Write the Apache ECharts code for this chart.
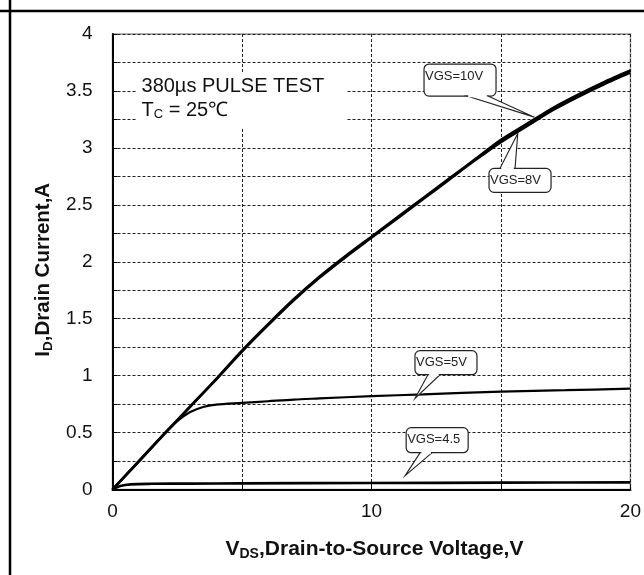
<!DOCTYPE html>
<html>
<head>
<meta charset="utf-8">
<script src="https://cdn.jsdelivr.net/npm/echarts@6/dist/echarts.min.js"></script>
<style>
html,body{margin:0;padding:0;background:#fff;}
#c{width:644px;height:575px;}
</style>
</head>
<body>
<div id="c"></div>
<script>
// ---- data ----
const vdsMain = [0,1,2,3,4,5,6,7,8,9,10,11,12,13,14,15,16,17,18,19,20];
const id10V   = [0,0.245,0.49,0.73,0.97,1.22,1.45,1.67,1.87,2.05,2.22,2.39,2.56,2.73,2.9,3.07,3.21,3.35,3.47,3.58,3.68];
const id8V    = [0,0.24,0.485,0.725,0.965,1.21,1.44,1.66,1.86,2.04,2.21,2.38,2.55,2.72,2.89,3.05,3.19,3.33,3.45,3.56,3.66];
const vds5V   = [0,1,2,2.5,3,3.5,4,5,6,7,8,10,12,15,17.5,20];
const id5V    = [0,0.245,0.49,0.6,0.68,0.725,0.745,0.76,0.775,0.79,0.80,0.82,0.835,0.86,0.872,0.885];
const vds45V  = [0,0.3,0.7,1.5,3,5,10,15,20];
const id45V   = [0,0.03,0.045,0.05,0.052,0.054,0.057,0.06,0.063];
const xTickLabels = ['0','10','20'];
const yTickLabels = ['0','0.5','1','1.5','2','2.5','3','3.5','4'];
const calloutText = ['VGS=10V','VGS=8V','VGS=5V','VGS=4.5'];

// annotation anchors in data units (box top-left, tail tip)
const callouts = [
  {box:[12.03,3.736], tip:[16.29,3.27],  w:72, h:32, side:'bottom', base:[43,64]},
  {box:[14.54,2.82],  tip:[15.65,3.127], w:62, h:24, side:'top',    base:[11,26]},
  {box:[11.68,1.219], tip:[11.68,0.80],  w:62, h:24, side:'bottom', base:[13,25]},
  {box:[11.34,0.543], tip:[11.30,0.121], w:62, h:25, side:'bottom', base:[14,26]}
];
const noteBox = {x0:0.94, y0:3.657, x1:9.04, y1:3.174};
const noteTextPos = {x:1.12, y1:3.543, y2:3.332};

const FONT = '"Liberation Sans", Arial, sans-serif';
const pairs = (xs, ys) => xs.map((x,i)=>[x, ys[i]]);

const chart = echarts.init(document.getElementById('c'), null, {renderer:'canvas'});
const gridDash = {show:true, lineStyle:{color:'#222', width:1, type:[3,2]}};

chart.setOption({
  animation:false,
  backgroundColor:'#fff',
  grid:{left:112.5, right:10.7, top:34, bottom:85.5, show:true, borderColor:'#9a9a9a', borderWidth:1.5, backgroundColor:'#fff'},
  xAxis:{
    type:'value', min:0, max:20, interval:5,
    axisLine:{show:true, onZero:false, lineStyle:{color:'#000', width:2}},
    axisTick:{show:true, inside:true, length:5, lineStyle:{color:'#000', width:1}},
    splitLine:gridDash,
    axisLabel:{color:'#111', fontFamily:FONT, fontSize:19, margin:13,
      formatter:v=>{ const s=String(v); return xTickLabels.indexOf(s)>=0 ? s : ''; }},
    name:'{b|V}{s|DS}{b|,Drain-to-Source Voltage,V}',
    nameLocation:'middle', nameGap:47,
    nameTextStyle:{padding:[0,0,0,6], rich:{
      b:{fontFamily:FONT, fontWeight:'bold', fontSize:21, color:'#111', lineHeight:25, verticalAlign:'middle'},
      s:{fontFamily:FONT, fontWeight:'bold', fontSize:14, color:'#111', lineHeight:25, verticalAlign:'bottom'}
    }}
  },
  yAxis:{
    type:'value', min:0, max:4, interval:0.25,
    axisLine:{show:true, onZero:false, lineStyle:{color:'#000', width:2}},
    axisTick:{show:true, inside:true, length:5, lineStyle:{color:'#000', width:1}},
    splitLine:gridDash,
    axisLabel:{color:'#111', fontFamily:FONT, fontSize:19, margin:20,
      formatter:v=>{ const s=String(+v.toFixed(2)); return yTickLabels.indexOf(s)>=0 ? s : ''; }},
    name:'{b|I}{s|D}{b|,Drain Current,A}',
    nameLocation:'middle', nameGap:52, nameRotate:90,
    nameTextStyle:{padding:[0,16,0,0], rich:{
      b:{fontFamily:FONT, fontWeight:'bold', fontSize:20.5, color:'#111', lineHeight:24, verticalAlign:'middle'},
      s:{fontFamily:FONT, fontWeight:'bold', fontSize:13.5, color:'#111', lineHeight:24, verticalAlign:'bottom'}
    }}
  },
  series:[
    {type:'line', name:'VGS=8V', data:pairs(vdsMain,id8V), showSymbol:false, smooth:0.25,
      lineStyle:{color:'#000', width:2.4}, z:3},
    {type:'line', name:'VGS=10V', data:pairs(vdsMain,id10V), showSymbol:false, smooth:0.25,
      lineStyle:{color:'#000', width:2.6}, z:3},
    {type:'line', name:'VGS=5V', data:pairs(vds5V,id5V), showSymbol:false, smooth:0.3,
      lineStyle:{color:'#000', width:2.2}, z:3},
    {type:'line', name:'VGS=4.5V', data:pairs(vds45V,id45V), showSymbol:false, smooth:0.3,
      lineStyle:{color:'#000', width:2.6}, z:3}
  ]
});

// ---- annotations placed through the chart's own coordinate conversion ----
const px = p => chart.convertToPixel({gridIndex:0}, p);
const g = [];
// outer frame of the figure cell
g.push({type:'line', shape:{x1:10, y1:0, x2:10, y2:575}, style:{stroke:'#000', lineWidth:2.5}, z:100});
g.push({type:'line', shape:{x1:0, y1:11, x2:644, y2:11}, style:{stroke:'#000', lineWidth:2.5}, z:100});

// test-condition note with white background
const n0 = px([noteBox.x0, noteBox.y0]), n1 = px([noteBox.x1, noteBox.y1]);
g.push({type:'rect', shape:{x:n0[0], y:n0[1], width:n1[0]-n0[0], height:n1[1]-n0[1]}, style:{fill:'#fff'}, z:50});
const t1 = px([noteTextPos.x, noteTextPos.y1]), t2 = px([noteTextPos.x, noteTextPos.y2]);
g.push({type:'text', x:t1[0], y:t1[1], style:{text:'380µs PULSE TEST', font:'20px '+FONT, fill:'#111', verticalAlign:'middle', align:'left'}, z:51});
g.push({type:'text', x:t2[0], y:t2[1], style:{text:'{a|T}{s|C}{a| = 25℃}', verticalAlign:'middle', align:'left',
  rich:{a:{fontFamily:FONT, fontSize:20, fill:'#111', lineHeight:22, verticalAlign:'middle'},
        s:{fontFamily:FONT, fontSize:13, fill:'#111', lineHeight:22, verticalAlign:'bottom'}}}, z:51});

// speech-bubble callouts
callouts.forEach((c, i) => {
  const b = px(c.box), t = px(c.tip);
  const bx = b[0], by = b[1];
  const yb = c.side === 'bottom' ? by + c.h : by;
  g.push({type:'rect', shape:{x:bx, y:by, width:c.w, height:c.h, r:5}, style:{fill:'#fff', stroke:'#222', lineWidth:1.2}, z:60});
  g.push({type:'polygon', shape:{points:[[bx+c.base[0], yb],[t[0], t[1]],[bx+c.base[1], yb]]}, style:{fill:'#fff', stroke:'#222', lineWidth:1.1}, z:61});
  g.push({type:'line', shape:{x1:bx+c.base[0]+1.2, y1:yb, x2:bx+c.base[1]-1.2, y2:yb}, style:{stroke:'#fff', lineWidth:2.4}, z:62});
  g.push({type:'text', x:bx+1, y:by+12, style:{text:calloutText[i], font:'13px '+FONT, fill:'#222', verticalAlign:'middle', align:'left'}, z:63});
});
chart.setOption({graphic:g});
</script>
</body>
</html>
